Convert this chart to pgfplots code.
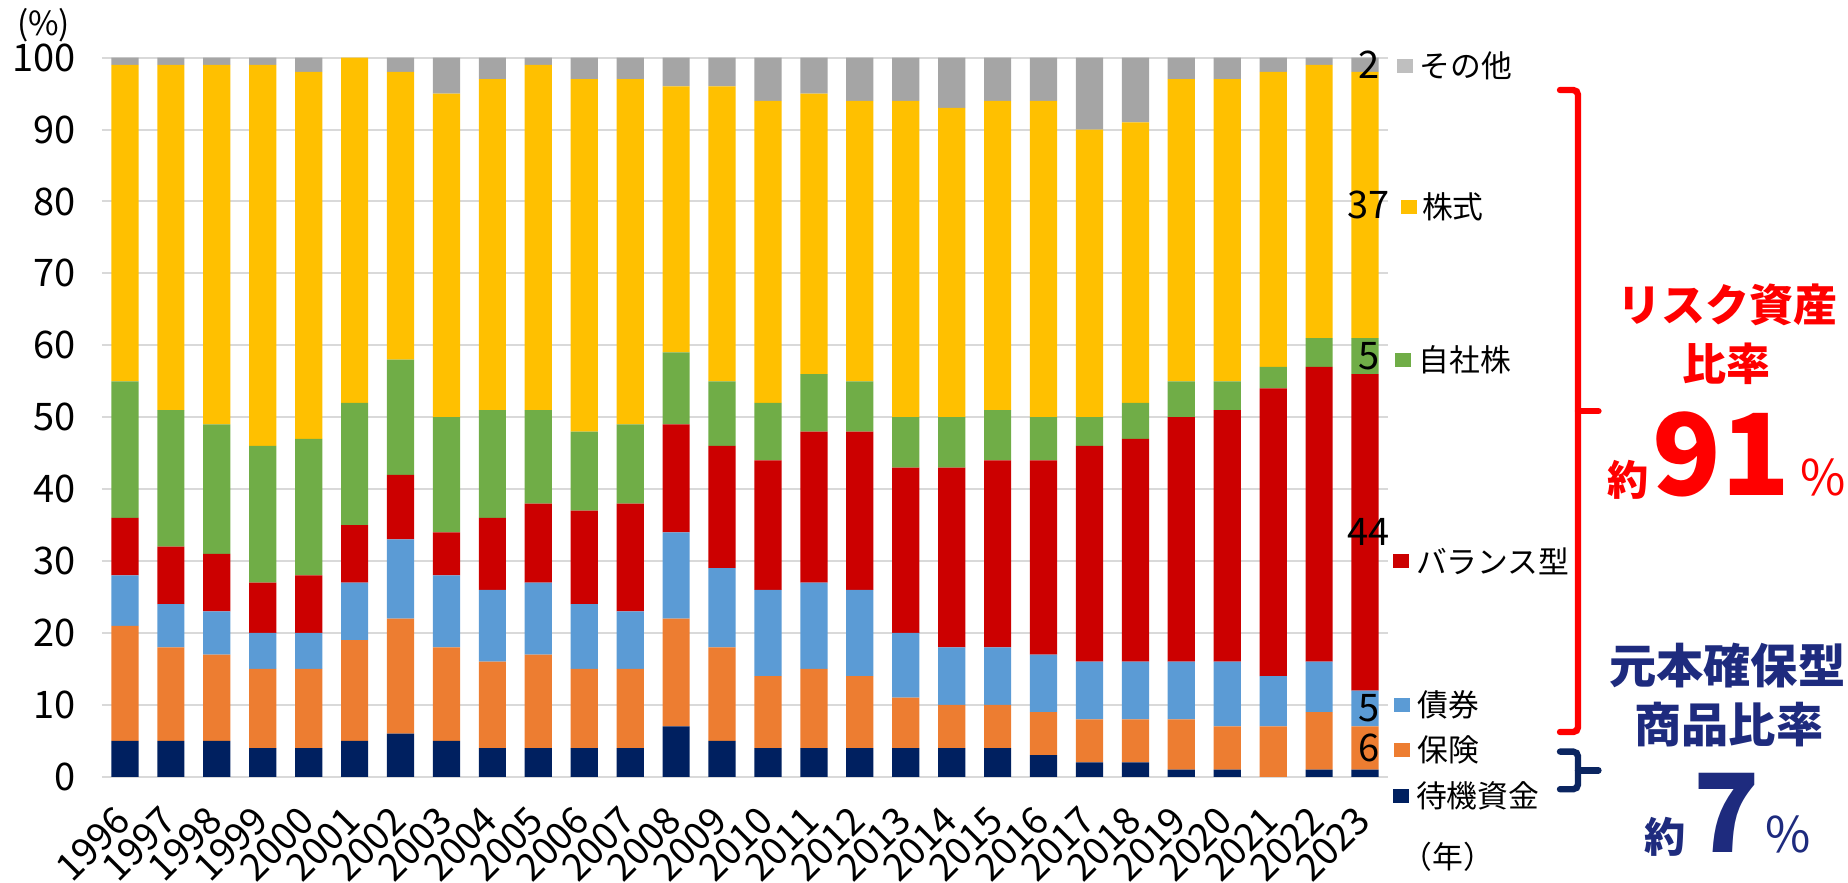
\documentclass[border=0pt]{standalone}
\usepackage{fontspec}
\setmainfont{Noto Sans CJK JP}
\usepackage{pgfplots}
\usepackage{pgfplotstable}
\pgfplotsset{compat=1.18}
\definecolor{cNavy}{HTML}{002060}
\definecolor{cOrange}{HTML}{ED7D31}
\definecolor{cBlue}{HTML}{5B9BD5}
\definecolor{cRed}{HTML}{CC0000}
\definecolor{cGreen}{HTML}{70AD47}
\definecolor{cYellow}{HTML}{FFC000}
\definecolor{cGrey}{HTML}{A5A5A5}
\definecolor{cGreyL}{HTML}{BFBFBF}
\definecolor{tRed}{HTML}{FF0000}
\definecolor{tNavy}{HTML}{1E2B7E}
\definecolor{bNavy}{HTML}{0B2560}
\definecolor{gridc}{HTML}{D9D9D9}

\pgfplotstableread{
idx year cash ins bond bal own stock other
0 1996 5 16 7 8 19 44 1
1 1997 5 13 6 8 19 48 1
2 1998 5 12 6 8 18 50 1
3 1999 4 11 5 7 19 53 1
4 2000 4 11 5 8 19 51 2
5 2001 5 14 8 8 17 48 0
6 2002 6 16 11 9 16 40 2
7 2003 5 13 10 6 16 45 5
8 2004 4 12 10 10 15 46 3
9 2005 4 13 10 11 13 48 1
10 2006 4 11 9 13 11 49 3
11 2007 4 11 8 15 11 48 3
12 2008 7 15 12 15 10 37 4
13 2009 5 13 11 17 9 41 4
14 2010 4 10 12 18 8 42 6
15 2011 4 11 12 21 8 39 5
16 2012 4 10 12 22 7 39 6
17 2013 4 7 9 23 7 44 6
18 2014 4 6 8 25 7 43 7
19 2015 4 6 8 26 7 43 6
20 2016 3 6 8 27 6 44 6
21 2017 2 6 8 30 4 40 10
22 2018 2 6 8 31 5 39 9
23 2019 1 7 8 34 5 42 3
24 2020 1 6 9 35 4 42 3
25 2021 0 7 7 40 3 41 2
26 2022 1 8 7 41 4 38 1
27 2023 1 6 5 44 5 37 2
}\data

\tikzset{vlab/.style={font=\fontsize{9.5}{10}\selectfont, inner sep=0pt, xshift=1pt},
  leg/.style={font=\fontsize{7.7}{8}\selectfont, inner sep=0pt, anchor=west}}

\begin{document}
\begin{tikzpicture}
\useasboundingbox (0,0) rectangle (462pt,220.5pt);
\begin{axis}[
  at={(25.5pt,26.3pt)}, anchor=south west,
  scale only axis, width=321.5pt, height=179.8pt,
  ybar stacked, bar width=6.8pt,
  xmin=-0.5, xmax=27.5, ymin=0, ymax=100,
  ytick={0,10,...,100},
  xtick={0,...,27},
  xticklabels={1996,1997,1998,1999,2000,2001,2002,2003,2004,2005,2006,2007,2008,2009,2010,2011,2012,2013,2014,2015,2016,2017,2018,2019,2020,2021,2022,2023},
  axis line style={draw=none},
  major tick length=0pt,
  ymajorgrids, major grid style={color=gridc, line width=0.5pt},
  clip=false,
  /pgf/number format/assume math mode=true,
  yticklabel style={font=\fontsize{9.5}{10}\selectfont, anchor=east, xshift=-3pt},
  xticklabel style={font=\fontsize{9.5}{10}\selectfont, xshift=-3pt, yshift=-6.6pt, rotate=45, anchor=north east, inner sep=0pt},
]
\addplot[fill=cNavy, draw=none] table[x=idx, y=cash]{\data};
\addplot[fill=cOrange, draw=none] table[x=idx, y=ins]{\data};
\addplot[fill=cBlue, draw=none] table[x=idx, y=bond]{\data};
\addplot[fill=cRed, draw=none] table[x=idx, y=bal]{\data};
\addplot[fill=cGreen, draw=none] table[x=idx, y=own]{\data};
\addplot[fill=cYellow, draw=none] table[x=idx, y=stock]{\data};
\addplot[fill=cGrey, draw=none] table[x=idx, y=other]{\data};
\end{axis}
% value labels for 2023
\node[vlab] at (341.2pt,204.3pt) {2};
\node[vlab] at (341.2pt,169.3pt) {37};
\node[vlab] at (341.2pt,131.5pt) {5};
\node[vlab] at (341.2pt,87.4pt) {44};
\node[vlab] at (341.2pt,43.4pt) {5};
\node[vlab] at (341.2pt,33.5pt) {6};
% y unit
\node[font=\fontsize{8.3}{8}\selectfont, inner sep=0pt] at (10.9pt,214.3pt) {(\%)};
% legend
\fill[cGreyL] (349.2pt,202.3pt) rectangle ++(4pt,3.5pt);
\node[leg] at (354.7pt,204pt) {その他};
\fill[cYellow] (350.2pt,167pt) rectangle ++(4pt,3.5pt);
\node[leg] at (355.3pt,168.7pt) {株式};
\fill[cGreen] (348.8pt,128.8pt) rectangle ++(4pt,3.5pt);
\node[leg] at (354.5pt,130.5pt) {自社株};
\fill[cRed] (348.2pt,78.5pt) rectangle ++(4pt,3.5pt);
\node[leg] at (353.8pt,80.2pt) {バランス型};
\fill[cBlue] (348.6pt,42.5pt) rectangle ++(4pt,3.5pt);
\node[leg] at (354.2pt,44.2pt) {債券};
\fill[cOrange] (348.6pt,31.3pt) rectangle ++(4pt,3.5pt);
\node[leg] at (354.2pt,33pt) {保険};
\fill[cNavy] (348.2pt,19.8pt) rectangle ++(4pt,3.5pt);
\node[leg] at (353.8pt,21.5pt) {待機資金};
\node[leg] at (350.2pt,6.3pt) {（年）};
% brackets
\draw[tRed, line width=1.6pt, rounded corners=1.2pt, line cap=round]
  (390pt,198pt) -- (394.5pt,198pt) -- (394.5pt,37.5pt) -- (390pt,37.5pt);
\draw[tRed, line width=1.6pt, line cap=round] (394.5pt,117.7pt) -- (399.6pt,117.7pt);
\draw[bNavy, line width=1.6pt, rounded corners=1.2pt, line cap=round]
  (390pt,32.6pt) -- (394.5pt,32.6pt) -- (394.5pt,23.2pt) -- (390pt,23.2pt);
\draw[bNavy, line width=1.6pt, line cap=round] (394.5pt,27.9pt) -- (399.6pt,27.9pt);
% red text
\node[tRed, font=\fontsize{11}{11}\selectfont\bfseries, inner sep=0pt] at (431.8pt,144.3pt) {リスク資産};
\node[tRed, font=\fontsize{11}{11}\selectfont\bfseries, inner sep=0pt] at (431.6pt,129.5pt) {比率};
\node[tRed, inner sep=0pt, anchor=base] at (431.6pt,96.7pt) {\fontsize{10.3}{10}\selectfont\bfseries 約\hspace{1pt}\fontsize{28.3}{28}\selectfont 91\hspace{2.5pt}\fontsize{12.3}{12}\selectfont\mdseries\%};
% navy text
\node[tNavy, font=\fontsize{11.8}{12}\selectfont\bfseries, inner sep=0pt] at (431.8pt,54pt) {元本確保型};
\node[tNavy, font=\fontsize{11.8}{12}\selectfont\bfseries, inner sep=0pt] at (432.2pt,39.3pt) {商品比率};
\node[tNavy, inner sep=0pt, anchor=base] at (431.9pt,7.5pt) {\fontsize{10.3}{10}\selectfont\bfseries 約\hspace{2pt}\fontsize{27.3}{27}\selectfont 7\hspace{1.5pt}\fontsize{12.3}{12}\selectfont\mdseries\%};
\end{tikzpicture}
\end{document}
